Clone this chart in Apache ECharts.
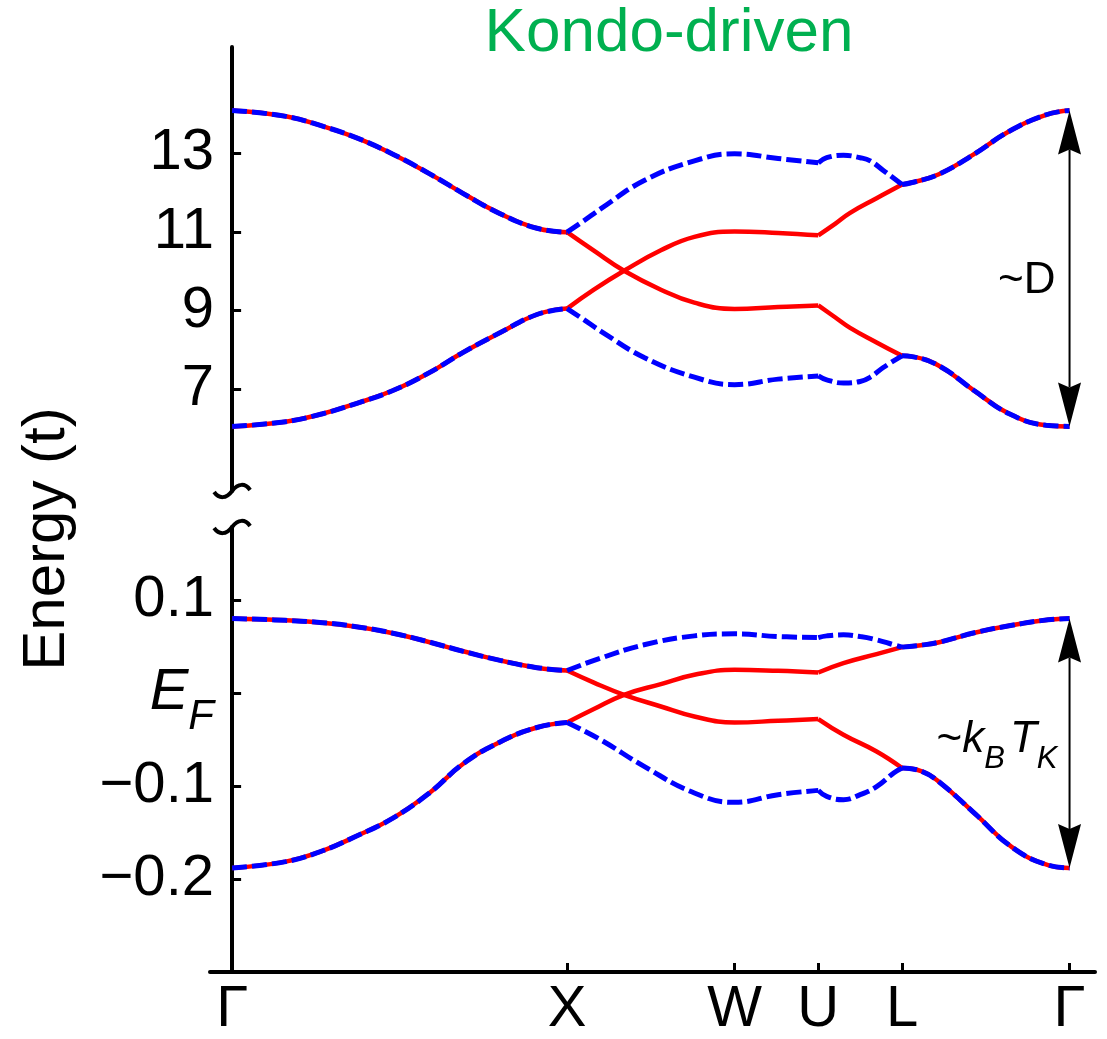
<!DOCTYPE html>
<html><head><meta charset="utf-8">
<script src="https://cdn.jsdelivr.net/npm/echarts@6/dist/echarts.min.js"></script>
<style>html,body{margin:0;padding:0;background:#fff}#c{width:1107px;height:1039px}</style>
</head><body><div id="c"></div>
<script>
// ---- axis ticks / labels ----
const kTicks = [0, 1, 1.5, 1.75, 2, 2.5];
const kLabels = ['Γ', 'X', 'W', 'U', 'L', 'Γ'];
const upperTicks = [7, 9, 11, 13];
const lowerTicks = [-0.2, -0.1, 0, 0.1];
const lowerTickLabels = ['−0.2', '−0.1', '{e|E}{f|F}', '0.1'];

// ---- upper panel (scale ~D) ----
const upGX_k   = [0, 0.16, 0.27, 0.37, 0.48, 0.59, 0.69, 0.8, 0.91, 1.0];
const upGX_top = [14.08, 13.93, 13.68, 13.39, 12.97, 12.47, 11.97, 11.46, 11.09, 10.99];
const upGX_bot = [6.06, 6.18, 6.38, 6.64, 6.97, 7.43, 7.94, 8.44, 8.90, 9.05];
const upXU_k    = [1.0, 1.08, 1.17, 1.28, 1.38, 1.5, 1.63, 1.75];
const upXU_redA = [10.99, 10.52, 10.01, 9.53, 9.20, 9.04, 9.09, 9.13];
const upXU_redB = [9.05, 9.53, 10.01, 10.53, 10.87, 11.01, 10.97, 10.91];
const upXU_bk    = [1.0, 1.05, 1.1, 1.23, 1.38, 1.5, 1.63, 1.75];
const upXU_blueU = [10.99, 11.28, 11.58, 12.30, 12.80, 12.98, 12.86, 12.75];
const upXU_blueL = [9.05, 8.77, 8.48, 7.81, 7.31, 7.12, 7.26, 7.34];
const upUL_k    = [1.75, 1.8, 1.845, 1.924, 2.0];
const upUL_redA = [9.13, 8.83, 8.56, 8.19, 7.85];
const upUL_redB = [10.91, 11.20, 11.48, 11.85, 12.20];
const upUL_bk    = [1.75, 1.775, 1.825, 1.875, 1.905, 1.945, 2.0];
const upUL_blueU = [12.75, 12.88, 12.94, 12.88, 12.80, 12.55, 12.20];
const upUL_blueL = [7.34, 7.24, 7.16, 7.20, 7.31, 7.56, 7.85];
const upLG_k   = [2.0, 2.03, 2.11, 2.215, 2.32, 2.43, 2.5];
const upLG_top = [12.20, 12.25, 12.46, 12.97, 13.55, 13.97, 14.08];
const upLG_bot = [7.85, 7.83, 7.60, 6.97, 6.38, 6.09, 6.06];

// ---- lower panel (scale ~kB TK) ----
const loGX_k   = [0, 0.16, 0.27, 0.37, 0.48, 0.59, 0.69, 0.8, 0.91, 1.0];
const loGX_top = [0.0805, 0.0785, 0.0760, 0.0717, 0.0647, 0.0550, 0.0452, 0.0354, 0.0276, 0.0245];
const loGX_bot = [-0.1880, -0.1812, -0.1695, -0.1539, -0.1344, -0.1070, -0.0758, -0.0524, -0.0368, -0.0314];
const loXU_k    = [1.0, 1.08, 1.17, 1.28, 1.38, 1.5, 1.63, 1.75];
const loXU_redA = [0.0245, 0.0115, -0.0016, -0.0142, -0.0250, -0.0314, -0.0296, -0.0277];
const loXU_redB = [-0.0314, -0.0170, -0.0016, 0.0099, 0.0199, 0.0253, 0.0242, 0.0224];
const loXU_bk    = [1.0, 1.1, 1.23, 1.38, 1.5, 1.63, 1.75];
const loXU_blueU = [0.0245, 0.0378, 0.0522, 0.0618, 0.0640, 0.0611, 0.0600];
const loXU_blueL = [-0.0314, -0.0500, -0.0787, -0.1073, -0.1174, -0.1091, -0.1045];
const loUL_k    = [1.75, 1.825, 1.924, 2.0];
const loUL_redA = [-0.0277, -0.0446, -0.0626, -0.0804];
const loUL_redB = [0.0224, 0.0325, 0.0422, 0.0497];
const loUL_bk    = [1.75, 1.775, 1.825, 1.875, 1.925, 1.975, 2.0];
const loUL_blueU = [0.0600, 0.0618, 0.0629, 0.0611, 0.0575, 0.0522, 0.0497];
const loUL_blueL = [-0.1045, -0.1110, -0.1145, -0.1091, -0.1002, -0.0858, -0.0804];
const loLG_k   = [2.0, 2.057, 2.111, 2.22, 2.328, 2.436, 2.5];
const loLG_top = [0.0497, 0.0518, 0.0550, 0.0655, 0.0732, 0.0791, 0.0805];
const loLG_bot = [-0.0804, -0.0837, -0.0954, -0.1304, -0.1656, -0.1850, -0.1880];

// ---- annotation anchors: [k, top, bottom, label-y] ----
const upArrow = [2.5, 14.08, 6.06, 9.75];
const loArrow = [2.5, 0.0805, -0.1880, -0.05];

const FONT = '"Liberation Sans", Arial, Helvetica, sans-serif';
const RED = '#ff0000', BLUE = '#0000ff';

function pts(ks, vs) { return ks.map((k, i) => [k, vs[i]]); }
function seg(g, ks, vs, kind) {
  const red = kind === 'r';
  return {
    type: 'line', xAxisIndex: g, yAxisIndex: g, data: pts(ks, vs),
    smooth: 0.45, symbol: 'none', silent: true, animation: false,
    z: red ? 2 : 3,
    lineStyle: red ? { color: RED, width: 4.5, type: 'solid' } : { color: BLUE, width: 5, type: [15, 5] }
  };
}

const series = [
  // upper red
  seg(0, upGX_k, upGX_top, 'r'), seg(0, upGX_k, upGX_bot, 'r'),
  seg(0, upXU_k, upXU_redA, 'r'), seg(0, upXU_k, upXU_redB, 'r'),
  seg(0, upUL_k, upUL_redA, 'r'), seg(0, upUL_k, upUL_redB, 'r'),
  seg(0, upLG_k, upLG_top, 'r'), seg(0, upLG_k, upLG_bot, 'r'),
  // upper blue
  seg(0, upGX_k, upGX_top, 'b'), seg(0, upGX_k, upGX_bot, 'b'),
  seg(0, upXU_bk, upXU_blueU, 'b'), seg(0, upXU_bk, upXU_blueL, 'b'),
  seg(0, upUL_bk, upUL_blueU, 'b'), seg(0, upUL_bk, upUL_blueL, 'b'),
  seg(0, upLG_k, upLG_top, 'b'), seg(0, upLG_k, upLG_bot, 'b'),
  // lower red
  seg(1, loGX_k, loGX_top, 'r'), seg(1, loGX_k, loGX_bot, 'r'),
  seg(1, loXU_k, loXU_redA, 'r'), seg(1, loXU_k, loXU_redB, 'r'),
  seg(1, loUL_k, loUL_redA, 'r'), seg(1, loUL_k, loUL_redB, 'r'),
  seg(1, loLG_k, loLG_top, 'r'), seg(1, loLG_k, loLG_bot, 'r'),
  // lower blue
  seg(1, loGX_k, loGX_top, 'b'), seg(1, loGX_k, loGX_bot, 'b'),
  seg(1, loXU_bk, loXU_blueU, 'b'), seg(1, loXU_bk, loXU_blueL, 'b'),
  seg(1, loUL_bk, loUL_blueU, 'b'), seg(1, loUL_bk, loUL_blueL, 'b'),
  seg(1, loLG_k, loLG_top, 'b'), seg(1, loLG_k, loLG_bot, 'b')
];

function arrowRender(text, rich, font, dx) {
  return function (params, api) {
    const x = api.value(0);
    const a = api.coord([x, api.value(1)]);
    const b = api.coord([x, api.value(2)]);
    const c = api.coord([x, api.value(3)]);
    const hw = 11.5, hl = 44, n = 5;
    return {
      type: 'group', children: [
        { type: 'line', shape: { x1: a[0], y1: a[1] + hl - n, x2: b[0], y2: b[1] - hl + n }, style: { stroke: '#000', lineWidth: 2 } },
        { type: 'polygon', shape: { points: [[a[0], a[1]], [a[0] + hw, a[1] + hl], [a[0], a[1] + hl - n], [a[0] - hw, a[1] + hl]] }, style: { fill: '#000' } },
        { type: 'polygon', shape: { points: [[b[0], b[1]], [b[0] + hw, b[1] - hl], [b[0], b[1] - hl + n], [b[0] - hw, b[1] - hl]] }, style: { fill: '#000' } },
        { type: 'text', style: { text: text, rich: rich, x: c[0] + dx, y: c[1], align: 'right', verticalAlign: 'middle', fill: '#000', font: font } }
      ]
    };
  };
}

series.push({
  type: 'custom', xAxisIndex: 0, yAxisIndex: 0, data: [upArrow], silent: true, animation: false, z: 5,
  renderItem: arrowRender('~D', null, '44px ' + FONT, -14)
});
series.push({
  type: 'custom', xAxisIndex: 1, yAxisIndex: 1, data: [loArrow], silent: true, animation: false, z: 5,
  renderItem: arrowRender('{t|~}{i|k}{s|B}{i|T}{s|K}', {
    t: { fontSize: 44, fontFamily: FONT, lineHeight: 70, verticalAlign: 'middle', fill: '#000' },
    i: { fontSize: 44, fontFamily: FONT, fontStyle: 'italic', lineHeight: 70, verticalAlign: 'middle', fill: '#000' },
    s: { fontSize: 31, fontFamily: FONT, fontStyle: 'italic', lineHeight: 42, verticalAlign: 'bottom', fill: '#000', padding: [0, 5, 0, 0] }
  }, '44px ' + FONT, -7)
});

const axisLineStyle = { color: '#000', width: 4 };
const tickStyle = { color: '#000', width: 3 };

const chart = echarts.init(document.getElementById('c'), null, { renderer: 'canvas' });
chart.setOption({
  animation: false,
  backgroundColor: '#fff',
  textStyle: { fontFamily: FONT },
  grid: [
    { left: 210, right: 12, top: 47, height: 444 },
    { left: 210, right: 12, top: 527, height: 445 }
  ],
  xAxis: [
    { gridIndex: 0, type: 'value', min: -0.066, max: 2.576, show: false },
    {
      gridIndex: 1, type: 'value', min: -0.066, max: 2.576,
      axisLine: { onZero: false, lineStyle: axisLineStyle },
      axisTick: { inside: true, length: 9, lineStyle: tickStyle, customValues: kTicks },
      axisLabel: {
        customValues: kTicks, margin: 9, fontSize: 58, color: '#000', fontFamily: FONT,
        formatter: function (v) {
          let bi = 0; kTicks.forEach((t, i) => { if (Math.abs(t - v) < Math.abs(kTicks[bi] - v)) bi = i; });
          return kLabels[bi];
        }
      },
      splitLine: { show: false }
    }
  ],
  yAxis: [
    {
      gridIndex: 0, type: 'value', min: 4.42, max: 15.69,
      axisLine: { onZero: true, lineStyle: axisLineStyle },
      axisTick: { inside: true, length: 9, lineStyle: tickStyle, customValues: upperTicks },
      axisLabel: { customValues: upperTicks, margin: -4, fontSize: 58, color: '#000', fontFamily: FONT },
      splitLine: { show: false }
    },
    {
      gridIndex: 1, type: 'value', min: -0.3, max: 0.179,
      axisLine: { onZero: true, lineStyle: axisLineStyle },
      axisTick: { inside: true, length: 9, lineStyle: tickStyle, customValues: lowerTicks },
      axisLabel: {
        customValues: lowerTicks, margin: -4, fontSize: 58, color: '#000', fontFamily: FONT,
        formatter: function (v) {
          let bi = 0; lowerTicks.forEach((t, i) => { if (Math.abs(t - v) < Math.abs(lowerTicks[bi] - v)) bi = i; });
          return lowerTickLabels[bi];
        },
        rich: {
          e: { fontSize: 58, fontStyle: 'italic', fontFamily: FONT, lineHeight: 90, verticalAlign: 'middle', color: '#000' },
          f: { fontSize: 42, fontStyle: 'italic', fontFamily: FONT, lineHeight: 55, verticalAlign: 'bottom', color: '#000' }
        }
      },
      splitLine: { show: false }
    }
  ],
  series: series
});

// axis-break marks and free text
const pU = chart.convertToPixel({ xAxisIndex: 0, yAxisIndex: 0 }, [0, 4.42]);
const pL = chart.convertToPixel({ xAxisIndex: 1, yAxisIndex: 1 }, [0, 0.179]);
function tilde(p) {
  return {
    type: 'group', x: p[0], y: p[1], children: [
      { type: 'bezierCurve', shape: { x1: -18, y1: 1, cpx1: -13, cpy1: 8, cpx2: -6, cpy2: 8, x2: 0, y2: 0 }, style: { stroke: '#000', lineWidth: 4, fill: null } },
      { type: 'bezierCurve', shape: { x1: 0, y1: 0, cpx1: 6, cpy1: -8, cpx2: 13, cpy2: -8, x2: 18, y2: -1 }, style: { stroke: '#000', lineWidth: 4, fill: null } }
    ]
  };
}
chart.setOption({
  graphic: [
    tilde(pU), tilde(pL),
    { type: 'text', x: 669, y: 34, style: { text: 'Kondo-driven', font: '62px ' + FONT, fill: '#00b050', align: 'center', verticalAlign: 'middle' } },
    { type: 'text', x: 47, y: 539, rotation: Math.PI / 2, style: { text: 'Energy (t)', font: '60px ' + FONT, fill: '#000', align: 'center', verticalAlign: 'middle' } }
  ]
});
</script>
</body></html>
